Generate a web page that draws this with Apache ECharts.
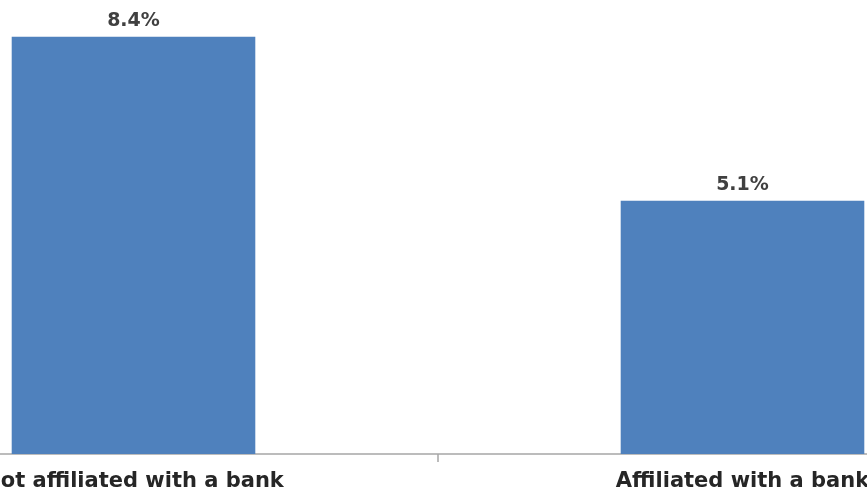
<!DOCTYPE html>
<html>
<head>
<meta charset="utf-8">
<script src="https://cdn.jsdelivr.net/npm/echarts@6/dist/echarts.min.js"></script>
<style>
html,body{margin:0;padding:0;background:#fff;overflow:hidden;width:867px;height:495px;}
#chart{position:absolute;left:-171px;top:0;width:1218px;height:495px;}
</style>
</head>
<body>
<div id="chart"></div>
<script>
var categories = ["Not affiliated with a bank", "Affiliated with a bank"];
var values = [8.4, 5.1];
var valueLabels = ["8.4%", "5.1%"];

var chart = echarts.init(document.getElementById('chart'));
chart.setOption({
  animation: false,
  grid: { left: 0, right: 0, top: 7, bottom: 41, containLabel: false },
  xAxis: {
    type: 'category',
    data: categories,
    axisLine: { lineStyle: { color: '#a6a6a6', width: 1.5 } },
    axisTick: { show: true, length: 8, lineStyle: { color: '#a6a6a6', width: 1.5 } },
    axisLabel: { color: '#262626', fontFamily: 'DejaVu Sans', fontSize: 21, fontWeight: 'bold', margin: 17, hideOverlap: false }
  },
  yAxis: {
    type: 'value',
    min: 0,
    max: 9,
    show: false,
    splitLine: { show: false }
  },
  series: [{
    type: 'bar',
    data: values,
    barWidth: '40%',
    itemStyle: { color: '#4f81bd' },
    label: {
      show: true,
      position: 'top',
      distance: 6,
      color: '#404040',
      fontFamily: 'DejaVu Sans',
      fontSize: 19,
      fontWeight: 'bold',
      formatter: function (p) { return valueLabels[p.dataIndex]; }
    }
  }]
});
</script>
</body>
</html>
